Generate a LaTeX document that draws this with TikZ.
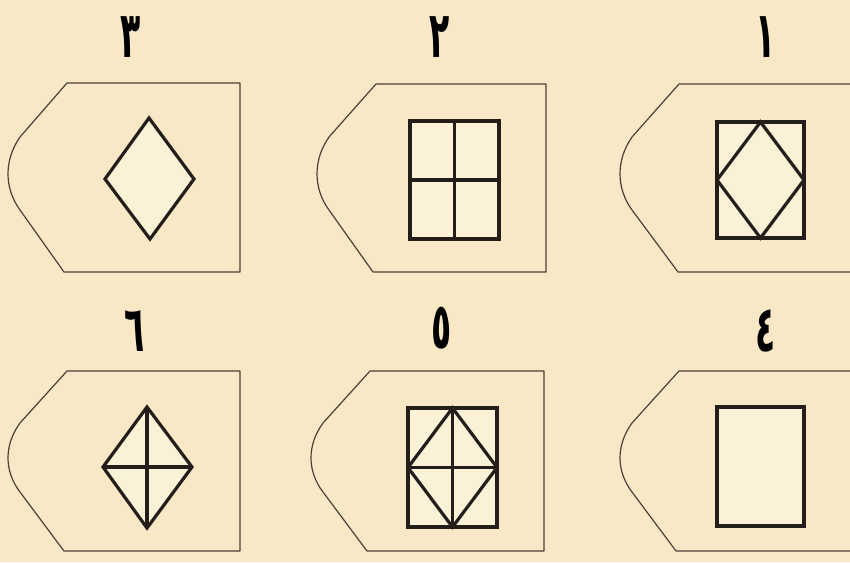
\documentclass[tikz,border=0pt]{standalone}
\usepackage{fontspec}
\newfontfamily\arabicfont[Script=Arabic]{DejaVu Sans}
\TeXXeTstate=1
\definecolor{bg}{HTML}{F9E8C6}
\definecolor{inner}{HTML}{FAF1D6}
\definecolor{thin}{HTML}{4A4035}
\definecolor{ink}{HTML}{231E1A}
\newcommand\digitbox[1]{\scalebox{0.72}[1.4]{\beginR #1\endR}}
\tikzset{
  outline/.style={draw=thin, line width=1.2pt, line join=round},
  fig/.style={draw=ink, line width=3.2pt, fill=inner, line join=miter},
  lin/.style={draw=ink, line width=3.2pt},
  num/.style={font=\arabicfont\bfseries\fontsize{46}{46}\selectfont, text=black, inner sep=0pt}
}
\begin{document}
\begin{tikzpicture}[x=1pt,y=-1pt]
\fill[bg] (0,0) rectangle (850,562);
\clip (0,0) rectangle (850,562);
% outlines, top row
\draw[outline] (67,83) -- (240,83) -- (240,272) -- (64,272) -- (20,210) .. controls (4,188) and (4,160) .. (20,137) -- cycle;
\draw[outline] (376,84) -- (546,84) -- (546,272) -- (373,272) -- (329,210) .. controls (313,188) and (313,160) .. (329,137) -- cycle;
\draw[outline] (870,84) -- (679,84) -- (632,137) .. controls (616,160) and (616,188) .. (632,210) -- (678,272) -- (870,272);
% outlines, bottom row
\draw[outline] (67,371) -- (240,371) -- (240,551) -- (64,551) -- (20,492) .. controls (4,471) and (4,445) .. (20,423) -- cycle;
\draw[outline] (370,371) -- (544,371) -- (544,551) -- (367,551) -- (323,492) .. controls (307,471) and (307,445) .. (323,423) -- cycle;
\draw[outline] (870,371) -- (679,371) -- (632,423) .. controls (616,445) and (616,471) .. (632,492) -- (676,551) -- (870,551);
% panel 3: diamond
\path[fig] (149,118) -- (194,179) -- (150,239) -- (105,179) -- cycle;
% panel 2: rectangle with cross
\path[fig] (410,121) rectangle (499,239);
\draw[lin] (454.5,121) -- (454.5,239) (410,180) -- (499,180);
% panel 1: rectangle with inscribed diamond
\path[fig] (717,122) rectangle (804,238);
\draw[lin, line join=miter] (760.5,122) -- (804,180) -- (760.5,238) -- (717,180) -- cycle;
% panel 6: diamond with cross
\path[fig] (147,407) -- (192,467) -- (147,528) -- (103,467) -- cycle;
\draw[lin] (147,407) -- (147,528) (103,467) -- (192,467);
% panel 5: rectangle, diamond and cross
\path[fig] (408,408) rectangle (497,527);
\draw[lin, line join=miter] (452.5,408) -- (497,467.5) -- (452.5,527) -- (408,467.5) -- cycle;
\draw[lin] (452.5,408) -- (452.5,527) (408,467.5) -- (497,467.5);
% panel 4: rectangle
\path[fig] (717,407) rectangle (804,526);
% numerals
\node[num] (n3) at (131,37) {\digitbox{٣}};
\node[num] (n2) at (440,37) {\digitbox{٢}};
\node[num] (n1) at (766,37) {\digitbox{١}};
\node[num] (n6) at (135,331) {\digitbox{٦}};
\node[num] (n5) at (442,328) {\digitbox{٥}};
\node[num] (n4) at (766,331) {\digitbox{٤}};
\end{tikzpicture}
\end{document}
